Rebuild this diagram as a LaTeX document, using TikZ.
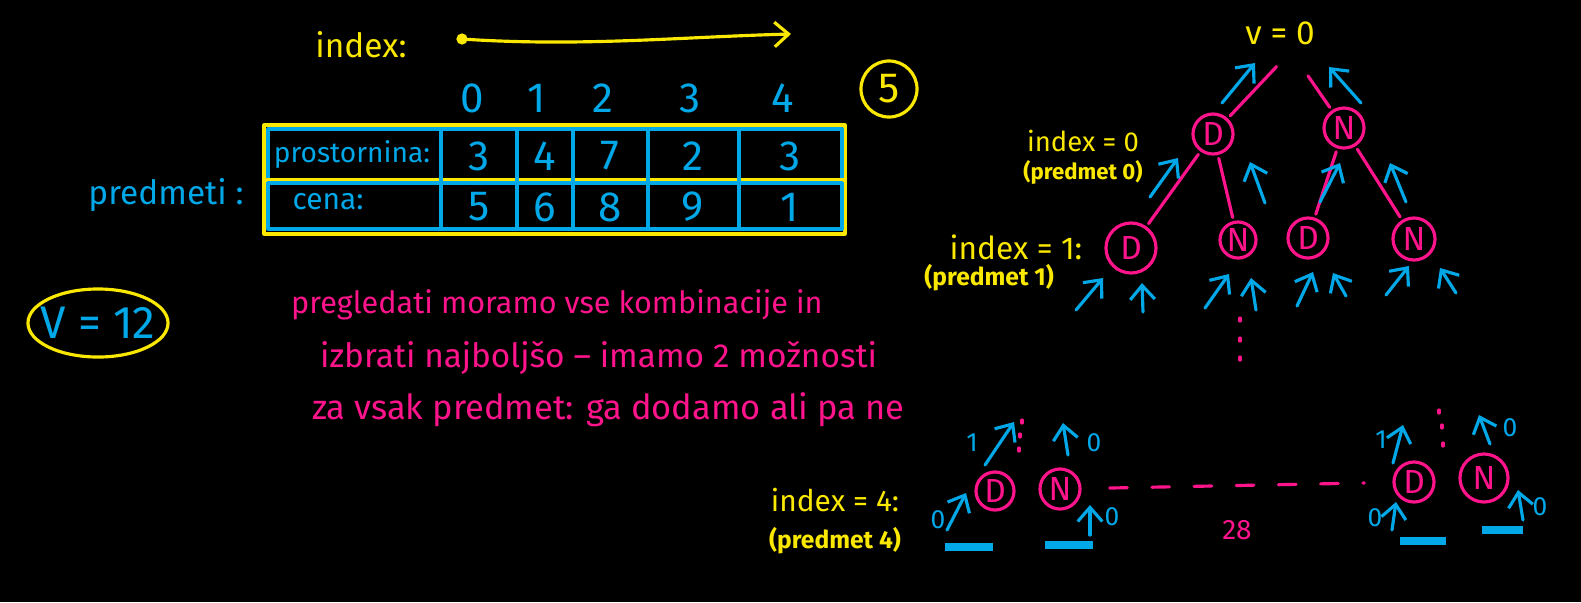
\documentclass[tikz,border=0pt]{standalone}
\usepackage{fontspec}
\setmainfont{Fira Sans}
\usetikzlibrary{arrows.meta, positioning, calc}

\definecolor{hyellow}{RGB}{250,232,0}
\definecolor{hblue}{RGB}{0,168,232}
\definecolor{hpink}{RGB}{255,20,140}

\begin{document}
\begin{tikzpicture}[x=0.01cm, y=-0.01cm, >={Straight Barb[length=4pt, width=7pt]}, line cap=round, line join=round]
    % Styles
    \tikzset{
        ink/.style={line width=0.9pt},
        yink/.style={ink, hyellow},
        bink/.style={ink, hblue},
        pinkink/.style={ink, hpink},
        ret/.style={bink, ->},
        edge/.style={pinkink, shorten <=1pt, shorten >=1pt},
        ytext/.style={text=hyellow, inner sep=1pt, font=\fontsize{9.5}{11}\selectfont},
        ysmall/.style={text=hyellow, inner sep=1pt, font=\fontsize{7}{8}\selectfont\bfseries},
        btext/.style={text=hblue, inner sep=1pt, font=\fontsize{8.5}{10}\selectfont},
        bnum/.style={text=hblue, inner sep=1pt, font=\fontsize{12}{14}\selectfont},
        bsmall/.style={text=hblue, inner sep=1pt, font=\fontsize{7.5}{9}\selectfont},
        ptext/.style={text=hpink, inner sep=1pt, anchor=west, font=\fontsize{9.5}{11}\selectfont},
        choice/.style={circle, draw=hpink, ink, text=hpink, inner sep=0pt, minimum size=0.4cm, font=\fontsize{9.5}{11}\selectfont},
        bar/.style={hblue, line width=2pt, line cap=butt}
    }

    % Background and frame
    \fill[black] (0,0) rectangle (1581,602);
    \useasboundingbox (0,0) rectangle (1581,602);

    % --- Index arrow ---
    \node[ytext] (idx_lbl) at (361,45) {index:};
    \coordinate (idx_start) at (462,39);
    \coordinate (idx_end) at (791,34);
    \fill[hyellow] (idx_start) circle (1.6pt);
    \draw[yink, ->] (idx_start) .. controls (580,47) and (680,37) .. (idx_end);

    % --- Column numbers ---
    \foreach \i/\x in {0/472, 1/537, 2/603, 3/690, 4/783}
        \node[bnum] (col\i) at (\x,98) {\i};
    \node[bnum, text=hyellow, circle, draw=hyellow, ink, minimum size=0.56cm, inner sep=0pt] (count) at (889,89) {5};

    % --- Table of items ---
    \draw[yink] (264,125) rectangle (845,234);
    \draw[bink] (268,129) rectangle (842,229);
    \draw[yink] (264,180) -- (845,180);
    \draw[bink] (268,183) -- (842,183);
    \foreach \x in {441, 517, 573, 648, 739}
        \draw[bink] (\x,129) -- (\x,229);
    \node[btext, font=\fontsize{8}{10}\selectfont] (size_lbl) at (352,155) {prostornina:};
    \node[btext] (price_lbl) at (328,202) {cena:};
    \foreach \x/\a/\b in {479/3/5, 545/4/6, 610/7/8, 693/2/9, 790/3/1} {
        \node[bnum] (size\x) at (\x,156) {\a};
        \node[bnum] (price\x) at (\x,207) {\b};
    }
    \node[btext, font=\fontsize{9.5}{11}\selectfont] (items) at (166,195) {predmeti :};

    % --- Capacity ---
    \node[bnum, font=\fontsize{13}{15}\selectfont] (cap) at (98,323) {V = 12};
    \draw[yink] (cap) ellipse [x radius=0.7cm, y radius=0.34cm];

    % --- Explanation ---
    \node[ptext, font=\fontsize{8.7}{10}\selectfont] (line1) at (287,305) {pregledati moramo vse kombinacije in};
    \node[ptext] (line2) at (316,358) {izbrati najboljšo – imamo 2 možnosti};
    \node[ptext, font=\fontsize{9.8}{11}\selectfont] (line3) at (308,410) {za vsak predmet: ga dodamo ali pa ne};

    % --- Tree: root and first two levels ---
    \node[ytext] (root) at (1280,33) {v = 0};
    \coordinate (root_l) at (1279,64);
    \coordinate (root_r) at (1306,73);

    \node[choice] (d0) at (1213,134) {D};
    \node[choice] (n0) at (1344,128) {N};
    \node[choice, minimum size=0.5cm] (d1a) at (1131,248) {D};
    \node[choice, minimum size=0.36cm] (n1a) at (1238,240) {N};
    \node[choice] (d1b) at (1308,238) {D};
    \node[choice, minimum size=0.42cm] (n1b) at (1414,239) {N};

    \draw[edge] (root_l) -- (d0);
    \draw[edge] (root_r) -- (n0);
    \draw[edge] (d0) -- (d1a);
    \draw[edge] (d0) -- (n1a);
    \draw[edge] (n0) -- (d1b);
    \draw[edge] (n0) -- (n1b);

    \node[ytext, font=\fontsize{7.8}{9}\selectfont] (lvl0) at (1083,141) {index = 0};
    \node[ysmall, font=\fontsize{6.3}{7}\selectfont\bfseries, below=0pt of lvl0] (item0) {(predmet 0)};
    \node[ytext, font=\fontsize{9}{11}\selectfont] (lvl1) at (1016,247) {index = 1:};
    \node[ysmall, below left=-1pt and -32pt of lvl1] (item1) {(predmet 1)};

    % Return arrows
    \foreach \sx/\sy/\ex/\ey in {1222/103/1255/63, 1361/103/1329/67,
        1150/197/1178/158, 1265/203/1250/162, 1320/202/1340/163, 1406/202/1390/163,
        1076/310/1103/278, 1143/312/1142/283, 1205/308/1229/274, 1256/310/1251/278,
        1297/306/1313/272, 1346/296/1333/273, 1386/295/1409/266, 1456/293/1440/268}
        \draw[ret] (\sx,\sy) -- (\ex,\ey);

    % Vertical dots
    \foreach \y in {318, 338, 357}
        \draw[pinkink] (1240,\y) -- (1240,\y+3);

    % --- Last level ---
    \node[ytext, font=\fontsize{8.5}{10}\selectfont] (lvl4) at (835,500) {index = 4:};
    \node[ysmall, below=2pt of lvl4] (item4) {(predmet 4)};

    \node[choice, minimum size=0.38cm] (d4a) at (995,491) {D};
    \node[choice] (n4a) at (1060,489) {N};
    \node[choice] (d4b) at (1414,482) {D};
    \node[choice, minimum size=0.48cm] (n4b) at (1484,478) {N};

    \draw[pinkink, dash pattern=on 5pt off 7pt, shorten <=8pt, shorten >=8pt] (n4a) -- (d4b)
        node[midway, below=6pt, text=hpink, font=\fontsize{8}{10}\selectfont] (count_lbl) {28};

    \foreach \sx/\sy/\ex/\ey in {985/465/1014/422, 1068/455/1063/423, 947/530/966/493, 1090/535/1090/505,
        1393/463/1403/425, 1490/444/1479/415, 1392/530/1396/502, 1523/520/1518/490}
        \draw[ret] (\sx,\sy) -- (\ex,\ey);

    \foreach \x/\y in {1022/420, 1020/434, 1019/448, 1439/410, 1442/425, 1443/443}
        \draw[pinkink] (\x,\y) -- (\x,\y+3);

    \node[bsmall] (v1a) at (972,443) {1};
    \node[bsmall] (v2a) at (1094,443) {0};
    \node[bsmall] (v3a) at (938,520) {0};
    \node[bsmall] (v4a) at (1112,517) {0};
    \node[bsmall] (v1b) at (1381,440) {1};
    \node[bsmall] (v2b) at (1510,428) {0};
    \node[bsmall] (v3b) at (1375,518) {0};
    \node[bsmall] (v4b) at (1540,507) {0};

    \draw[bar] (945,547) -- (993,547);
    \draw[bar] (1045,545) -- (1093,545);
    \draw[bar] (1400,541) -- (1446,541);
    \draw[bar] (1482,530) -- (1523,530);
\end{tikzpicture}
\end{document}
